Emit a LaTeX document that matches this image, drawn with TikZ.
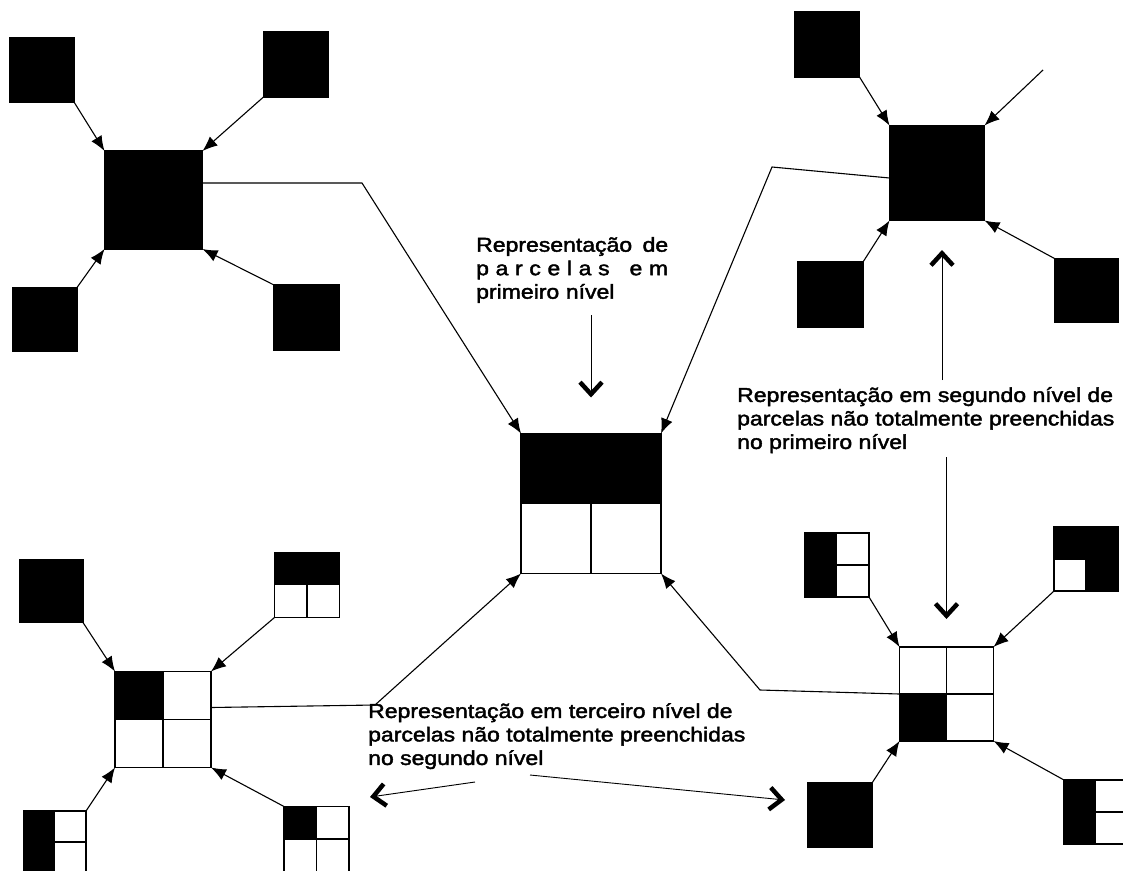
\documentclass[tikz,border=0pt]{standalone}
\usepackage{fontspec}
\setmainfont[FakeStretch=1.15, FakeBold=2]{Liberation Sans}
\usetikzlibrary{arrows.meta}

\begin{document}
\begin{tikzpicture}[x=1pt, y=-1pt,
    parcela/.style={draw=black, line width=1.3pt, fill=white, minimum size=#1,
        inner sep=0pt, outer sep=0pt},
    cheia/.style={parcela=#1, fill=black},
    pfeil/.style={line width=1.1pt, -{Latex[length=15pt,width=12pt]}},
    vpfeil/.style={line width=0.9pt, -{Straight Barb[length=12pt,width=22pt,line width=4.5pt]}},
    beschriftung/.style={font=\fontsize{20}{23.5}\selectfont, inner sep=0pt, align=left}]

    \clip (0,0) rectangle (1123,870);

    % Parzellen erster Ebene (oben links)
    \node[cheia=98pt] (a0) at (153.5,200) {};
    \node[cheia=64pt] (a1) at (42,70) {};
    \node[cheia=65pt] (a2) at (296,64.5) {};
    \node[cheia=64pt] (a3) at (45,319.5) {};
    \node[cheia=65pt] (a4) at (306.5,317.5) {};

    % Parzellen erster Ebene (oben rechts)
    \node[cheia=95pt] (b0) at (937,173) {};
    \node[cheia=65pt] (b1) at (827,44.5) {};
    \coordinate (b2) at (1043,70);
    \node[cheia=65pt] (b3) at (830.5,294.5) {};
    \node[cheia=64pt] (b4) at (1086.5,290.5) {};

    % Zusammenfassung in der Mitte
    \node[parcela=140pt] (m) at (591,503.5) {};
    \fill (m.north west) rectangle (m.east);
    \draw[line width=1.3pt] (m.west) -- (m.east) (m.center) -- (m.south);

    % zweite Ebene (unten links)
    \node[parcela=96pt] (c0) at (163,719.5) {};
    \node[cheia=63pt] (c1) at (51.5,591) {};
    \node[parcela=65pt] (c2) at (307,585) {};
    \node[parcela=62pt] (c3) at (55,842) {};
    \node[parcela=65pt] (c4) at (316.5,839) {};
    \fill (c0.north west) rectangle (c0.center);
    \fill (c2.north west) rectangle (c2.east);
    \fill (c3.north west) rectangle (c3.south);
    \fill (c4.north west) rectangle (c4.center);
    \draw[line width=1.3pt] (c0.west) -- (c0.east) (c0.north) -- (c0.south)
        (c2.center) -- (c2.south) (c3.center) -- (c3.east)
        (c4.west) -- (c4.east) (c4.north) -- (c4.south);

    % zweite Ebene (unten rechts)
    \node[parcela=94pt] (d0) at (946.5,694) {};
    \node[parcela=64pt] (d1) at (837,565) {};
    \node[parcela=64pt] (d2) at (1086,559) {};
    \node[cheia=64pt] (d3) at (840,815) {};
    \node[parcela=64pt] (d4) at (1096,812) {};
    \fill (d0.west) rectangle (d0.south);
    \fill (d1.north west) rectangle (d1.south);
    \fill (d2.north west) rectangle (d2.east);
    \fill (d2.center) rectangle (d2.south east);
    \fill (d4.north west) rectangle (d4.south);
    \draw[line width=1.3pt] (d0.west) -- (d0.east) (d0.north) -- (d0.south)
        (d1.center) -- (d1.east) (d2.west) -- (d2.center) -- (d2.south)
        (d4.center) -- (d4.east);

    % Pfeile zu den Gruppen
    \foreach \g in {a,b,c,d}
    {
        \draw[pfeil] (\g1.south east) -- (\g0.north west);
        \draw[pfeil] (\g3.north east) -- (\g0.south west);
        \draw[pfeil] (\g4.north west) -- (\g0.south east);
    }
    \foreach \g in {a,c,d}
        \draw[pfeil] (\g2.south west) -- (\g0.north east);
    \draw[pfeil] (b2) -- (b0.north east);

    % Verbindungen zur Mitte
    \coordinate (k1) at (362,183);
    \coordinate (k2) at (772,167);
    \coordinate (k3) at (375,705);
    \coordinate (k4) at (760,690);
    \draw[pfeil] (a0.east |- k1) -- (k1) -- (m.north west);
    \draw[pfeil] ([yshift=-5pt]b0.west) -- (k2) -- (m.north east);
    \draw[pfeil] ([yshift=12pt]c0.east) -- (k3) -- (m.south west);
    \draw[pfeil] (d0.west) -- (k4) -- (m.south east);

    % Beschriftungen
    \node[beschriftung, text width=192pt, anchor=north west] (t1) at (476,237)
        {Representação\hfill de\\
         p\hfill a\hfill r\hfill c\hfill e\hfill l\hfill a\hfill s\hfill\hfill\hfill e\hfill m\\
         primeiro nível};
    \node[beschriftung, anchor=north west] (t2) at (737,387)
        {Representação em segundo nível de\\
         parcelas não totalmente preenchidas\\
         no primeiro nível};
    \node[beschriftung, anchor=north west] (t3) at (368,703)
        {Representação em terceiro nível de\\
         parcelas não totalmente preenchidas\\
         no segundo nível};

    \coordinate (s1) at (942,380);
    \coordinate (s2) at (942,250);
    \coordinate (s3) at (475,782);
    \coordinate (s4) at (370,797);
    \coordinate (s5) at (530,775);
    \coordinate (s6) at (785,800);
    \draw[vpfeil] ([yshift=-12pt]t1.south -| m) -- ([yshift=36pt]m.north);
    \draw[vpfeil] (s1) -- (s2);
    \draw[vpfeil] ([yshift=-4pt]t2.south -| d0) -- ([yshift=28pt]d0.north);
    \draw[vpfeil] (s3) -- (s4);
    \draw[vpfeil] (s5) -- (s6);
\end{tikzpicture}
\end{document}
